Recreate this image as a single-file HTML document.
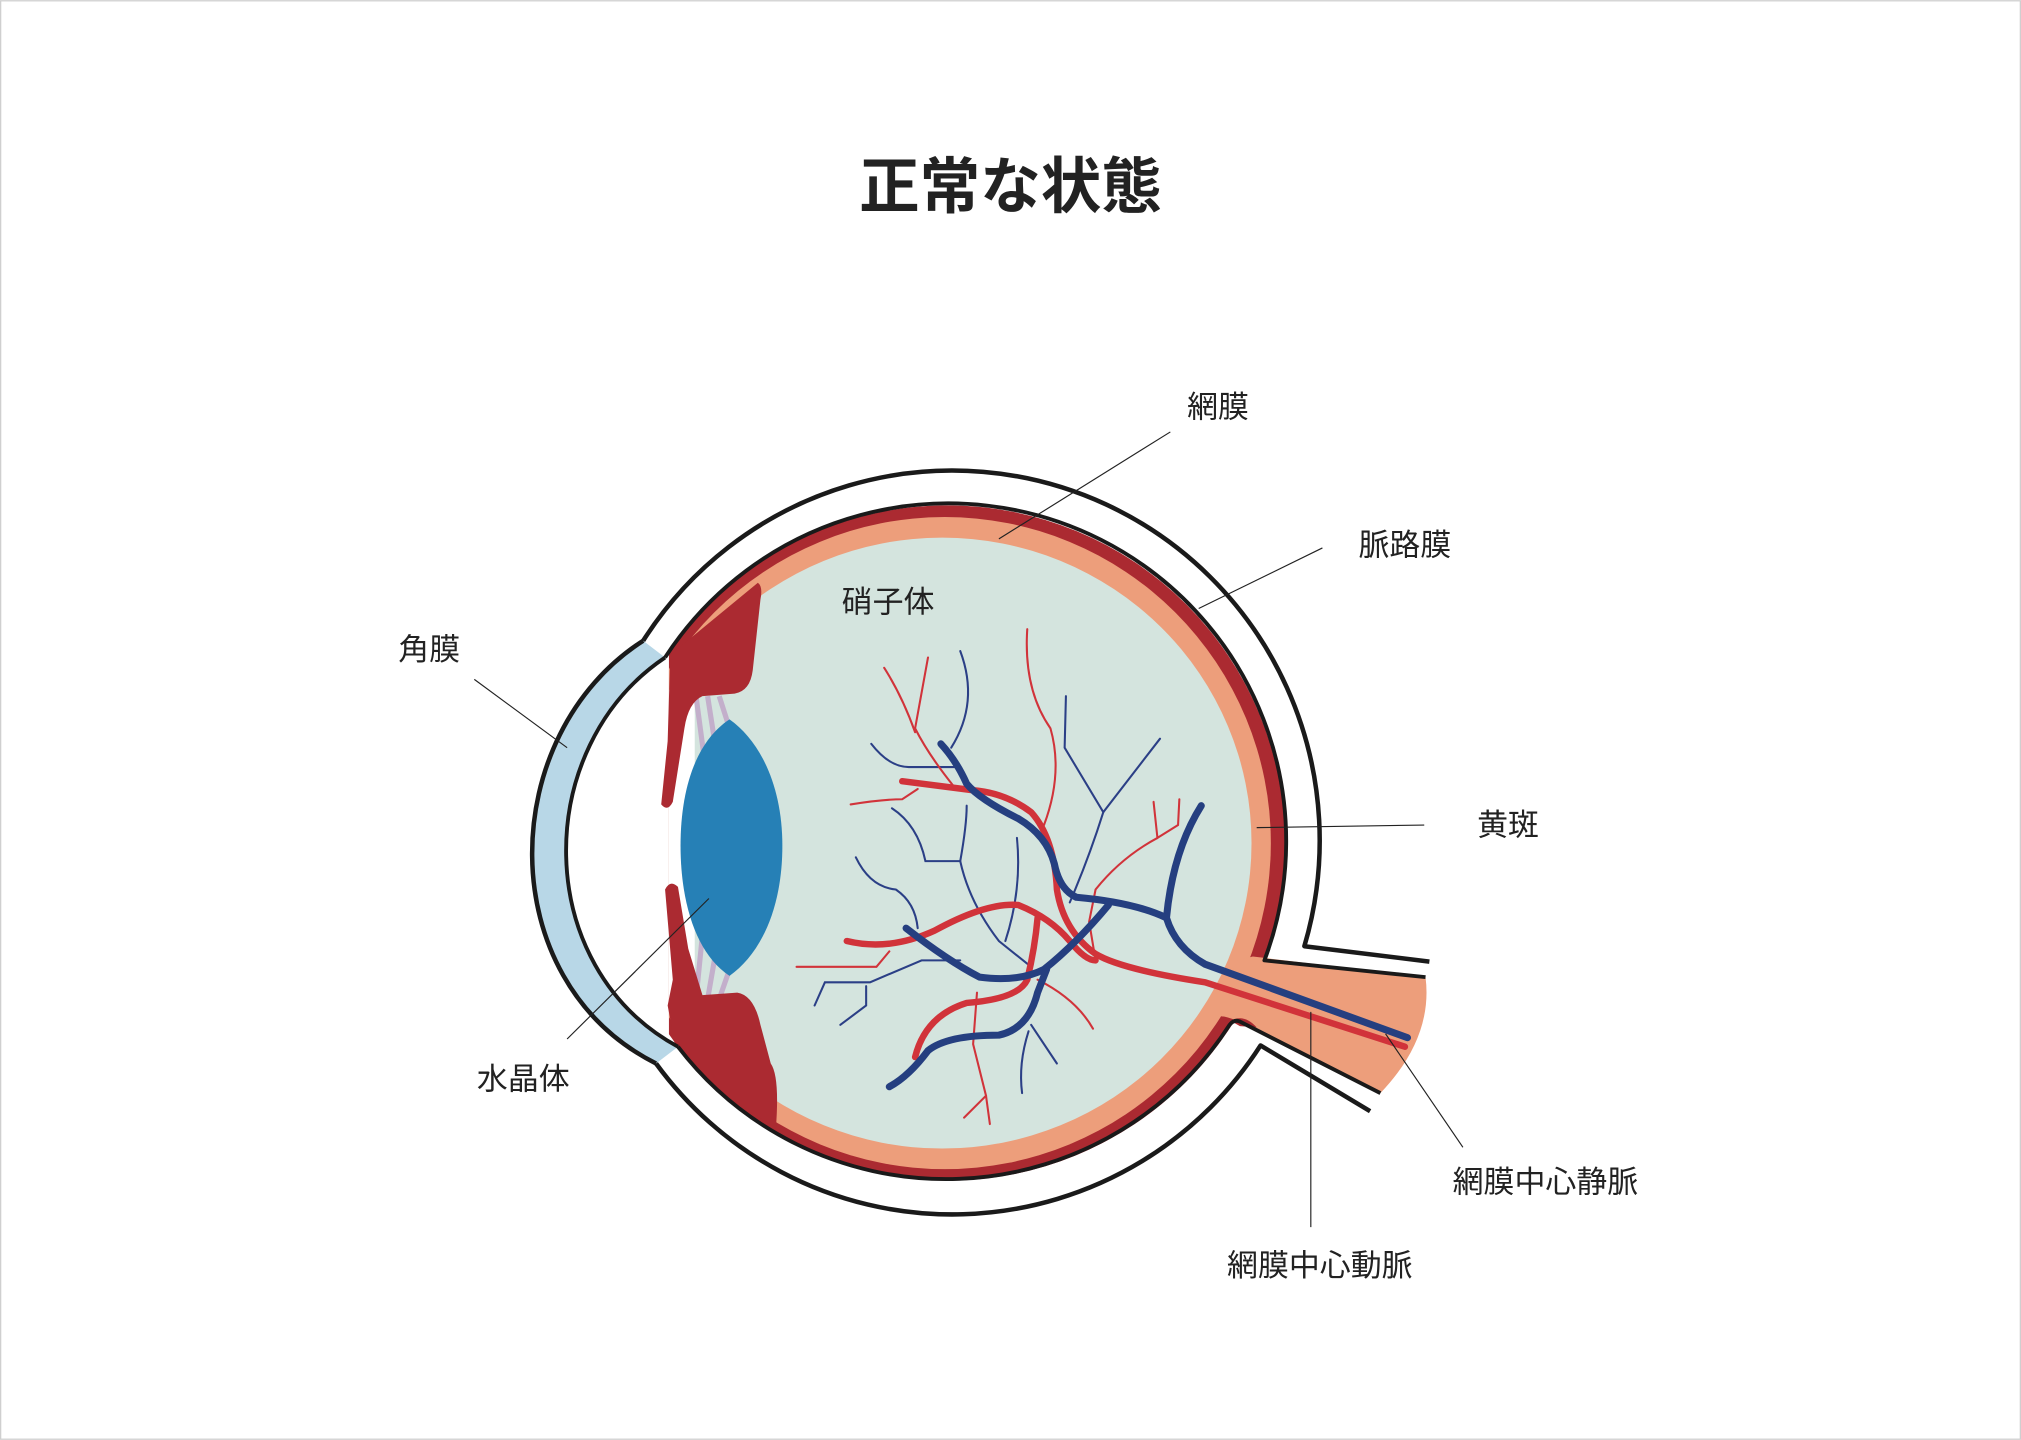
<!DOCTYPE html>
<html><head><meta charset="utf-8"><style>
html,body{margin:0;padding:0;background:#fff;}
svg{display:block;}
text{font-family:"Liberation Sans","Noto Sans CJK JP",sans-serif;fill:#222;}
</style></head><body>
<svg width="2021" height="1440" viewBox="0 0 1568 1117" xmlns="http://www.w3.org/2000/svg">
<rect x="0.5" y="0.5" width="1567" height="1116" fill="#fff" stroke="#cfcfcf" stroke-width="1"/>
<text x="784" y="161" font-size="47" font-weight="bold" text-anchor="middle" fill="#1a1a1a">正常な状態</text>
<defs>
<clipPath id="cl"><rect x="519" y="0" width="1000" height="1117"/></clipPath>
</defs>
<ellipse cx="738" cy="654" rx="285" ry="287" fill="#fff"/>
<polygon points="1000,730 1109,746 1063,862 970,815" fill="#fff"/>
<path d="M499,497 C385,570 380,760 509,825 L526,812 C412,750 412,580 516,510 Z" fill="#b8d7e7"/>
<g clip-path="url(#cl)">
<ellipse cx="735" cy="654" rx="262" ry="262" fill="#ab2a31"/>
<ellipse cx="733" cy="654" rx="253" ry="253" fill="#ed9e7b"/>
<ellipse cx="731" cy="654" rx="240" ry="237" fill="#d4e4de"/>
</g>
<path d="M972,742 L1106,758 Q1112,805 1071,848 L960,792 Q945,785 930,790 Q950,770 960,745 Z" fill="#ed9e7b"/>
<path d="M955,792 Q965,786 975,797 L962,796 Z" fill="#ab2a31"/>
<rect x="519" y="535" width="20" height="240" fill="#fff"/>
<g stroke="#c3afcb" stroke-width="4" fill="none">
<line x1="540" y1="540" x2="548" y2="600"/><line x1="549" y1="540" x2="556" y2="585"/><line x1="558" y1="540" x2="566" y2="565"/>
<line x1="540" y1="775" x2="546" y2="715"/><line x1="549" y1="775" x2="556" y2="735"/><line x1="558" y1="775" x2="566" y2="752"/>
</g>
<path d="M520,508 L588,452 Q592,455 590,465 L584,520 Q582,536 570,538 L545,540 Q534,545 531,565 L522,622 Q518,630 513,624 L518,575 Z" fill="#ab2a31"/>
<path d="M516,690 Q520,682 526,688 L534,736 L545,772 L572,770 Q585,772 590,795 L598,825 Q605,835 602,875 L570,855 L540,828 L524,812 L518,780 L522,760 Z" fill="#ab2a31"/>
<path d="M566,558 C590,575 607,610 607,656 C607,705 590,740 566,757 C540,740 528,700 528,656 C528,612 540,575 566,558 Z" fill="#2680b6"/>
<g fill="none" stroke="#1a1a1a" stroke-linejoin="round">
<path d="M499,497 C385,570 380,760 509,825" stroke-width="3.5"/>
<path d="M516,510 C412,580 412,750 526,812" stroke-width="3"/>
<path d="M499,497 A285,287 0 0 1 1012,734 L1109,746" stroke-width="3.5"/>
<path d="M1063,862 L978,811 A285,287 0 0 1 509,825" stroke-width="3.5"/>
<path d="M516,510 A262,262 0 0 1 981,745 L1106,758" stroke-width="3"/>
<path d="M1071,848 L963,793 Q958,790 954,795 A262,262 0 0 1 526,812" stroke-width="3"/>
</g>
<g fill="none" stroke-width="1.6" stroke-linecap="round">
<g stroke="#2b3f86">
<path d="M745,505 Q760,545 738,580"/>
<path d="M676,577 Q690,595 705,595 L745,595"/>
<path d="M692,627 Q712,640 718,668 L745,668 Q750,640 750,625"/>
<path d="M745,668 Q752,700 775,730 L800,750"/>
<path d="M664,665 Q675,688 695,690 Q710,700 712,720"/>
<path d="M827,540 L826,580 L856,630 L900,573"/>
<path d="M856,630 Q845,665 830,700"/>
<path d="M789,650 Q793,690 780,730"/>
<path d="M632,780 L640,762 L675,762 L715,745 L745,745"/>
<path d="M652,795 L672,780 L672,765"/>
<path d="M800,795 L820,825"/>
<path d="M798,800 Q790,825 793,848"/>
</g>
<g stroke="#d1333a">
<path d="M720,510 L710,565 Q720,585 740,610"/>
<path d="M686,518 Q700,540 710,568"/>
<path d="M797,488 Q794,535 815,565 Q825,600 810,640"/>
<path d="M660,624 Q685,620 700,620 L712,612"/>
<path d="M895,622 L898,650 L914,640 L915,620"/>
<path d="M898,650 Q870,665 850,690 L845,715 L850,745"/>
<path d="M618,750 L680,750 L690,738"/>
<path d="M805,760 Q835,775 848,798"/>
<path d="M758,770 L755,810 L765,850 L748,867"/>
<path d="M765,850 L768,872"/>
</g>
</g>
<g fill="none" stroke-linecap="round" stroke-linejoin="round">
<g stroke="#d1333a" stroke-width="5">
<path d="M1090,812 L935,762 Q870,752 850,740 Q825,722 820,690 Q818,650 800,630 Q780,615 755,613 L700,606"/>
<path d="M657,730 Q690,738 725,722 Q765,700 790,702 Q815,712 830,730 Q842,745 850,745"/>
<path d="M710,820 Q718,788 750,778 Q790,775 797,760 Q803,735 805,712"/>
</g>
<g stroke="#253f80" stroke-width="5.5">
<path d="M1092,805 L935,748 Q912,735 905,712 Q910,660 932,625"/>
<path d="M905,712 Q880,700 835,696 Q822,690 818,670 Q812,648 790,635 Q760,620 750,608 Q742,590 730,577"/>
<path d="M703,720 Q735,745 760,758 Q790,762 810,752 Q835,732 860,702"/>
<path d="M690,843 Q705,835 720,815 Q735,803 775,803 Q798,798 805,770 L812,752"/>
</g>
</g>
<g stroke="#222" stroke-width="0.9">
<line x1="908" y1="335" x2="775" y2="418"/>
<line x1="1026" y1="425" x2="930" y2="472"/>
<line x1="368" y1="527" x2="440" y2="580"/>
<line x1="1105" y1="640" x2="975" y2="642"/>
<line x1="440" y1="806" x2="550" y2="697"/>
<line x1="1135" y1="890" x2="1075" y2="802"/>
<line x1="1017" y1="952" x2="1017" y2="785"/>
</g>
<g font-size="24">
<text x="921" y="324">網膜</text>
<text x="1054" y="431">脈路膜</text>
<text x="653" y="475">硝子体</text>
<text x="309" y="512">角膜</text>
<text x="1146" y="648">黄斑</text>
<text x="370" y="845">水晶体</text>
<text x="1127" y="925">網膜中心静脈</text>
<text x="952" y="990">網膜中心動脈</text>
</g>
</svg>
</body></html>
